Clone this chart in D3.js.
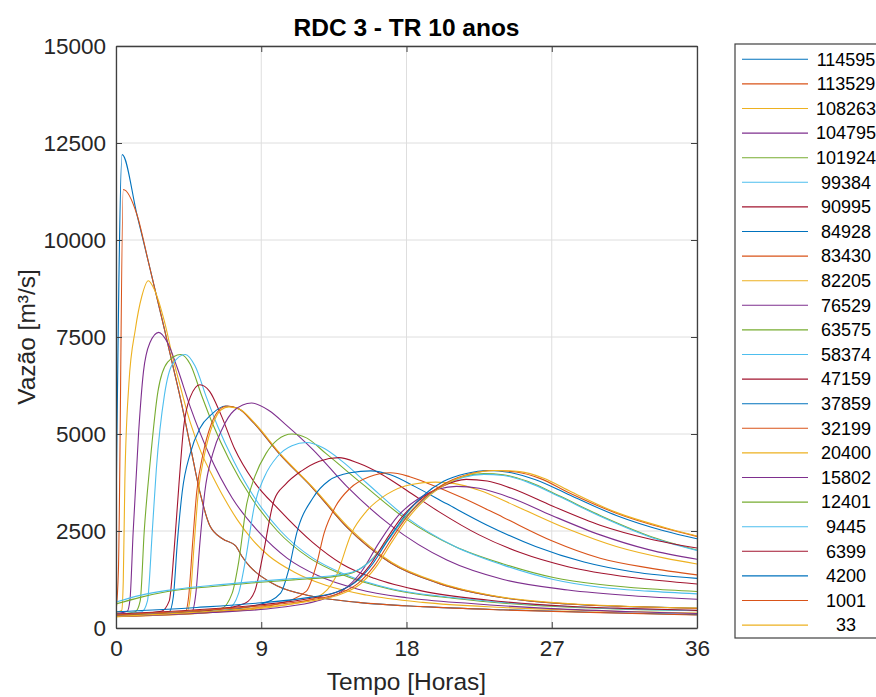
<!DOCTYPE html>
<html><head><meta charset="utf-8">
<script src="https://cdn.jsdelivr.net/npm/d3@7/dist/d3.min.js"></script>
<style>body{margin:0;background:#fff}svg{display:block}</style>
</head><body>
<svg id="chart" width="876" height="697"></svg>
<script>
// ---------- data ----------
const chartTitle = "RDC 3 - TR 10 anos";
const xLabel = "Tempo [Horas]";
const yLabel = "Vazão [m³/s]";
const xTicks = [0, 9, 18, 27, 36];
const yTicks = [0, 2500, 5000, 7500, 10000, 12500, 15000];
const seriesNames = ["114595","113529","108263","104795","101924","99384","90995","84928","83430","82205","76529","63575","58374","47159","37859","32199","20400","15802","12401","9445","6399","4200","1001","33"];
const colorCycle = ["#0072BD","#D95319","#EDB120","#7E2F8E","#77AC30","#4DBEEE","#A2142F"];

// each series: [time (h), discharge (m3/s)]
const s114595 = [[0,2800],[0.38,12200],[1.3,10650],[2,9450],[3,7700],[3.5,6800],[4,5900],[4.6,4700],[5.2,3500],[5.8,2650],[6.6,2300],[7.4,2120],[7.8,1850],[8.3,1580],[9,1330],[10,1080],[12,830],[15,660],[19,550],[24,470],[30,400],[36,345]];
const s113529 = [[0,420],[0.15,1500],[0.45,11300],[1.3,10650],[2,9450],[3,7700],[3.5,6800],[4,5900],[4.6,4700],[5.2,3500],[5.8,2650],[6.6,2300],[7.4,2120],[7.8,1850],[8.3,1580],[9,1330],[10,1080],[12,830],[15,660],[19,550],[24,465],[30,395],[36,335]];
const s108263 = [[0,400],[0.35,450],[0.45,1200],[0.55,3800],[0.8,6300],[1.2,7700],[1.6,8550],[2,8950],[2.4,8700],[3,7900],[3.5,7000],[4,6200],[4.6,5300],[5.3,4500],[6,3900],[6.7,3350],[7.5,2800],[8.5,2250],[9.5,1850],[11,1450],[13,1100],[15.5,850],[19,660],[24,530],[30,440],[36,385]];
const s104795 = [[0,370],[0.7,430],[0.87,750],[1.06,2450],[1.4,5030],[1.7,6600],[2.1,7350],[2.65,7620],[3.2,7350],[3.8,6700],[4.6,5700],[5.8,4450],[7.2,3350],[8.9,2450],[10.6,1800],[12.5,1350],[15,1000],[18,780],[22,630],[27,500],[32,420],[36,375]];
const s101924 = [[0,350],[1.2,420],[1.5,700],[1.75,2500],[2.1,4200],[2.6,6100],[3.2,6850],[4.0,7050],[4.6,6800],[5.3,6000],[6,5250],[7,4350],[8.4,3350],[10,2500],[12,1800],[14,1380],[17,1000],[21,760],[26,580],[31,490],[36,445]];
const s99384 = [[0,360],[1.6,420],[1.95,700],[2.25,2500],[2.5,4100],[3.0,6000],[3.5,6800],[4.3,7050],[4.9,6750],[5.6,5950],[6.3,5200],[7.3,4300],[8.6,3350],[10.2,2500],[12.2,1800],[14.2,1380],[17,1020],[21,780],[26,600],[31,500],[36,450]];
const s90995 = [[0,330],[2.8,430],[3.3,700],[3.6,2000],[3.9,3700],[4.2,5200],[4.6,5950],[5.2,6270],[5.8,6100],[6.5,5500],[7.35,4620],[8.5,3800],[10.1,3050],[12.2,2200],[14,1650],[16,1280],[19,950],[23,720],[28,560],[32,500],[36,455]];
const s84928 = [[0,320],[3.3,420],[3.55,800],[3.8,2200],[4.1,3500],[4.6,4500],[5.2,5150],[5.9,5500],[6.8,5720],[7.6,5650],[8.5,5300],[10.1,4500],[12.2,3600],[14.3,2600],[17,1680],[20,1150],[24,780],[28,620],[32,550],[36,510]];
const s83430 = [[0,300],[4.3,420],[4.5,800],[4.75,2200],[5.0,3500],[5.4,4500],[5.9,5250],[6.4,5620],[6.9,5720],[7.6,5650],[8.5,5300],[10.1,4500],[12.2,3600],[14.3,2600],[17,1680],[20,1150],[24,780],[28,620],[32,550],[36,505]];
const s82205 = [[0,290],[4.4,420],[4.6,800],[4.85,2200],[5.1,3500],[5.5,4500],[6,5250],[6.5,5620],[7.0,5700],[7.7,5630],[8.6,5280],[10.2,4480],[12.3,3580],[14.4,2600],[17.1,1690],[20.1,1160],[24,790],[28,630],[32,555],[36,515]];
const s76529 = [[0,310],[4.7,420],[4.95,900],[5.2,2200],[5.5,3500],[6.0,4500],[6.6,5150],[7.3,5600],[8.4,5800],[9.5,5600],[10.5,5250],[12.2,4600],[14.3,3650],[17,2650],[20.5,1750],[24,1250],[28,980],[32,830],[36,740]];
const s63575 = [[0,330],[6.5,500],[7.2,900],[7.6,1700],[8.1,3200],[8.6,3900],[9.3,4500],[10,4850],[10.9,5000],[11.8,4900],[13,4500],[15.3,3700],[18,2800],[21,2100],[24,1650],[27.1,1300],[30,1120],[33,1010],[36,940]];
const s58374 = [[0,340],[7.0,520],[7.6,900],[8.0,1700],[8.6,3200],[9.2,3900],[10,4420],[10.9,4700],[11.8,4780],[12.8,4650],[14,4300],[15.5,3750],[18,2850],[21,2100],[24,1620],[27.1,1250],[30,1050],[33,950],[36,880]];
const s47159 = [[0,320],[6,460],[8,640],[8.6,950],[9.1,1870],[9.8,3300],[10.5,3700],[11.5,4050],[12.6,4300],[13.8,4390],[15,4250],[16.5,3950],[18,3550],[20,3000],[22.5,2400],[25,1950],[28,1580],[32,1300],[36,1135]];
const s37859 = [[0,310],[6,430],[9,620],[10.2,900],[10.7,1500],[11.2,2450],[12.2,3350],[13.2,3800],[14.5,4000],[15.8,4050],[17,3950],[18.5,3650],[20.5,3200],[23,2650],[26,2100],[29,1700],[32,1450],[36,1280]];
const s32199 = [[0,300],[6,410],[10,620],[11.8,950],[12.4,1600],[12.9,2450],[13.6,3130],[14.5,3600],[15.7,3900],[17,4000],[18.2,3900],[19.5,3700],[21.5,3350],[24,2850],[27,2250],[30,1800],[33,1550],[36,1370]];
const s20400 = [[0,290],[6,400],[10,560],[12.5,800],[13.6,1300],[14.6,2450],[15.5,3000],[16.8,3450],[18.3,3700],[19.8,3760],[21,3720],[22.5,3550],[25,3100],[28,2550],[31,2100],[34,1800],[36,1650]];
const s15802 = [[0,300],[6,400],[10,520],[12.5,700],[14,950],[15.2,1450],[16.3,2200],[17.5,2900],[18.8,3350],[20,3580],[21.1,3650],[22.5,3600],[24.5,3350],[27,2900],[30,2400],[33,2020],[36,1770]];
const s12401 = [[0,620],[1.5,790],[3.2,940],[6,1070],[8.4,1160],[11,1240],[13.6,1330],[14.8,1450],[15.8,1750],[16.8,2250],[17.8,2800],[19,3300],[20.3,3700],[21.5,3900],[22.8,3980],[24,3950],[25.5,3780],[27.5,3400],[30,2900],[33,2380],[36,2010]];
const s9445 = [[0,670],[1.5,840],[3.2,970],[6,1100],[8.4,1190],[11,1275],[13.6,1360],[14.8,1460],[15.8,1740],[16.8,2230],[17.8,2780],[19,3280],[20.3,3680],[21.5,3880],[22.8,3960],[24,3930],[25.5,3760],[27.5,3380],[30,2880],[33,2360],[36,2000]];
const s6399 = [[0,360],[5,470],[9,600],[12,760],[13.5,900],[14.7,1150],[15.7,1600],[16.7,2250],[17.7,2850],[18.8,3300],[20.2,3650],[21.7,3830],[23,3790],[24.5,3600],[27,3150],[30,2650],[33,2300],[36,2060]];
const s4200 = [[0,420],[5,530],[9,650],[12,790],[13.8,950],[14.9,1200],[15.9,1650],[16.9,2300],[17.9,2900],[19,3400],[20.3,3780],[21.7,3980],[23,4060],[24.5,4000],[26,3820],[28,3450],[31,2900],[34,2500],[36,2300]];
const s1001 = [[0,340],[5,450],[9,570],[12,720],[13.9,900],[15,1150],[16,1600],[17,2250],[18,2850],[19.1,3350],[20.5,3750],[22,3980],[23.4,4060],[24.8,4020],[26.3,3850],[28,3500],[31,2960],[34,2570],[36,2360]];
const s33 = [[0,300],[5,410],[9,530],[12,690],[14,880],[15.1,1120],[16.1,1570],[17.1,2220],[18.1,2830],[19.2,3330],[20.6,3740],[22.1,3980],[23.5,4060],[25,4030],[26.5,3860],[28.2,3510],[31,2980],[34,2590],[36,2370]];

const seriesValues = [s114595,s113529,s108263,s104795,s101924,s99384,s90995,s84928,s83430,s82205,s76529,s63575,s58374,s47159,s37859,s32199,s20400,s15802,s12401,s9445,s6399,s4200,s1001,s33];

// ---------- layout ----------
const svg = d3.select("#chart");
const L = 116, R = 697, T = 46, B = 628;
const font = "'Liberation Sans', Arial, Helvetica, sans-serif";
const x = d3.scaleLinear().domain([0, 36]).range([L, R]);
const y = d3.scaleLinear().domain([0, 15000]).range([B, T]);

svg.append("rect").attr("x", 0).attr("y", 0).attr("width", 876).attr("height", 697).attr("fill", "#fff");

// grid
const grid = svg.append("g");
grid.selectAll("line.gx").data(xTicks).join("line")
  .attr("x1", d => x(d)).attr("x2", d => x(d)).attr("y1", T).attr("y2", B)
  .attr("stroke", "#dedede").attr("stroke-width", 1);
grid.selectAll("line.gy").data(yTicks).join("line")
  .attr("y1", d => y(d)).attr("y2", d => y(d)).attr("x1", L).attr("x2", R)
  .attr("stroke", "#dedede").attr("stroke-width", 1);

// clip
svg.append("defs").append("clipPath").attr("id", "clip")
  .append("rect").attr("x", L).attr("y", T).attr("width", R - L).attr("height", B - T);

const line = d3.line().x(d => x(d[0])).y(d => y(d[1])).curve(d3.curveMonotoneX);
const lines = svg.append("g").attr("clip-path", "url(#clip)");
seriesValues.forEach((s, i) => {
  lines.append("path").datum(s)
    .attr("d", line).attr("fill", "none")
    .attr("stroke", colorCycle[i % colorCycle.length])
    .attr("stroke-width", 1.1);
});

// axes (MATLAB-like: ticks inward on all sides, box)
const tickLen = 6;
const axisColor = "#404040";
const axB = svg.append("g").attr("transform", `translate(0,${B})`)
  .call(d3.axisBottom(x).tickValues(xTicks).tickSizeInner(-tickLen).tickSizeOuter(0).tickPadding(12));
const axT = svg.append("g").attr("transform", `translate(0,${T})`)
  .call(d3.axisTop(x).tickValues(xTicks).tickSizeInner(-tickLen).tickSizeOuter(0).tickFormat(""));
const axL = svg.append("g").attr("transform", `translate(${L},0)`)
  .call(d3.axisLeft(y).tickValues(yTicks).tickSizeInner(-tickLen).tickSizeOuter(0).tickPadding(10).tickFormat(d3.format("d")));
const axR = svg.append("g").attr("transform", `translate(${R},0)`)
  .call(d3.axisRight(y).tickValues(yTicks).tickSizeInner(-tickLen).tickSizeOuter(0).tickFormat(""));
[axB, axT, axL, axR].forEach(a => {
  a.select(".domain").attr("stroke", axisColor).attr("stroke-width", 1.3);
  a.selectAll(".tick line").attr("stroke", axisColor).attr("stroke-width", 1);
  a.selectAll("text").attr("fill", "#262626").style("font-family", font).style("font-size", "22.5px");
});

// titles
svg.append("text").attr("x", (L + R) / 2).attr("y", 36).attr("text-anchor", "middle")
  .style("font-family", font).style("font-size", "24.5px").style("font-weight", "bold")
  .attr("fill", "#000").text(chartTitle);
svg.append("text").attr("x", (L + R) / 2).attr("y", 690).attr("text-anchor", "middle")
  .style("font-family", font).style("font-size", "24.5px").attr("fill", "#262626").text(xLabel);
svg.append("text").attr("transform", `translate(35,${(T + B) / 2}) rotate(-90)`).attr("text-anchor", "middle")
  .style("font-family", font).style("font-size", "24.5px").attr("fill", "#262626").text(yLabel);

// legend
const lg = svg.append("g");
lg.append("rect").attr("x", 735).attr("y", 44).attr("width", 160).attr("height", 594)
  .attr("fill", "#fff").attr("stroke", axisColor).attr("stroke-width", 1.2);
const rowY = i => 59.3 + i * 24.6;
seriesNames.forEach((name, i) => {
  lg.append("line").attr("x1", 742).attr("x2", 808).attr("y1", rowY(i)).attr("y2", rowY(i))
    .attr("stroke", colorCycle[i % colorCycle.length]).attr("stroke-width", 1.1);
  lg.append("text").attr("x", 846).attr("y", rowY(i)).attr("dy", "0.35em").attr("text-anchor", "middle")
    .style("font-family", font).style("font-size", "18px").attr("fill", "#000").text(name);
});
</script>
</body></html>
